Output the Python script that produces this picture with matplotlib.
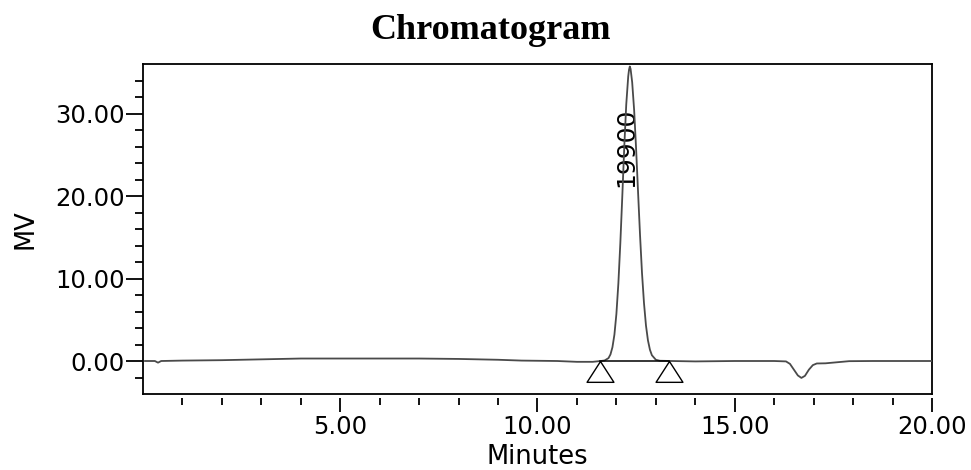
import matplotlib
matplotlib.use("Agg")
import matplotlib.pyplot as plt
from matplotlib.ticker import FixedLocator, FormatStrFormatter

# trace (minutes, mV)
trace_time = [0.05, 0.30, 0.38, 0.46, 1.0, 2.0, 3.0, 4.0, 5.0, 6.0, 7.0, 8.0, 9.0,
              9.6, 10.5, 11.0, 11.4, 11.6, 11.7, 11.8, 11.85, 11.9, 11.95, 12.0,
              12.05, 12.1, 12.15, 12.2, 12.25, 12.3, 12.32, 12.34, 12.36, 12.4,
              12.45, 12.5, 12.55, 12.6, 12.65, 12.7, 12.75, 12.8, 12.85, 12.9,
              13.0, 13.1, 13.4, 14.0, 15.0, 16.0, 16.3, 16.4, 16.5, 16.6, 16.69,
              16.78, 16.88, 16.98, 17.08, 17.3, 17.6, 17.9, 18.5, 20.0]
trace_mv = [0.0, 0.0, -0.2, 0.0, 0.05, 0.1, 0.2, 0.3, 0.3, 0.3, 0.3, 0.25, 0.15,
            0.05, 0.0, -0.1, -0.1, 0.0, 0.06, 0.35, 0.8, 1.67, 3.2, 5.7,
            9.4, 14.3, 20.0, 26.0, 31.1, 34.5, 35.3, 35.7, 35.4, 33.8,
            30.4, 25.7, 20.4, 15.2, 10.6, 7.0, 4.3, 2.5, 1.37, 0.7,
            0.15, 0.03, 0.0, -0.05, 0.0, 0.0, -0.05, -0.35, -1.05, -1.75, -2.05,
            -1.8, -1.05, -0.5, -0.3, -0.28, -0.15, -0.02, 0.0, 0.0]

# integration baseline start / end markers
peak_start = 11.58
peak_end = 13.33
peak_time = 12.34
peak_label = "19900"

x_major = [5, 10, 15, 20]
x_minor = [1, 2, 3, 4, 6, 7, 8, 9, 11, 12, 13, 14, 16, 17, 18, 19]
y_major = [0, 10, 20, 30]
y_minor = [-2, 2, 4, 6, 8, 12, 14, 16, 18, 22, 24, 26, 28, 32, 34]


def main():
    fig = plt.figure(figsize=(9.71, 4.70), dpi=100)
    ax = fig.add_axes([0.1473, 0.1617, 0.8125, 0.7021])

    ax.plot(trace_time, trace_mv, color="#4a4a4a", lw=1.3, zorder=3)
    ax.plot([peak_start, peak_end], [0, 0], color="black", lw=1.1, zorder=3)

    tri = [(0, 0), (-0.645, -1), (0.645, -1), (0, 0)]
    ax.plot([peak_start, peak_end], [0, 0], linestyle="none", marker=tri,
            markersize=30, markerfacecolor="white", markeredgecolor="black",
            markeredgewidth=1.0, zorder=4)

    ax.text(peak_time - 0.1, 21.1, peak_label, rotation=90, ha="center",
            va="bottom", fontsize=18, family="DejaVu Sans", zorder=1)

    ax.set_xlim(0, 20)
    ax.set_ylim(-4, 36)

    ax.xaxis.set_major_locator(FixedLocator(x_major))
    ax.xaxis.set_minor_locator(FixedLocator(x_minor))
    ax.yaxis.set_major_locator(FixedLocator(y_major))
    ax.yaxis.set_minor_locator(FixedLocator(y_minor))
    ax.xaxis.set_major_formatter(FormatStrFormatter("%.2f"))
    ax.yaxis.set_major_formatter(FormatStrFormatter("%.2f"))

    for s in ["left", "top", "right"]:
        ax.spines[s].set_linewidth(1.3)
    # x ticks sit a little below the frame
    ax.spines["bottom"].set_position(("outward", 3))
    ax.spines["bottom"].set_visible(False)
    ax.plot([0, 1], [0, 0], transform=ax.transAxes, color="black", lw=1.3,
            clip_on=False, zorder=5)

    ax.tick_params(axis="x", which="major", direction="out", length=10, width=1.3,
                   pad=2, labelsize=17.5)
    ax.tick_params(axis="x", which="minor", direction="out", length=5, width=1.3)
    ax.tick_params(axis="y", which="major", direction="out", length=12, width=1.3,
                   pad=1, labelsize=17.5)
    ax.tick_params(axis="y", which="minor", direction="out", length=6, width=1.3)

    ax.set_xlabel("Minutes", fontsize=18.5)
    ax.xaxis.set_label_coords(0.5, -0.152)
    ax.set_ylabel("MV", fontsize=18.5)
    ax.yaxis.set_label_coords(-0.133, 0.5)

    fig.text(490 / 971, 1 - 39 / 470, "Chromatogram", ha="center", va="baseline",
             fontsize=26, fontweight="bold", family="Liberation Serif")

    fig.savefig("out.png", dpi=100)


if __name__ == "__main__":
    main()
